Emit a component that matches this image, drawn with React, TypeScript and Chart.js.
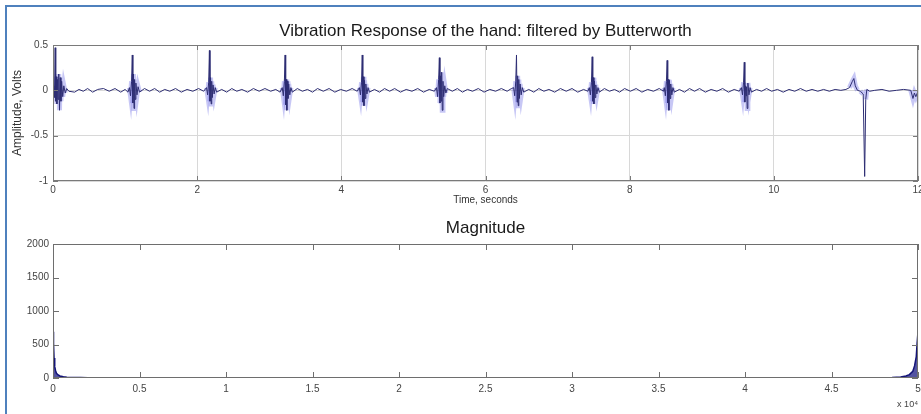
import React, { useEffect, useRef } from "react";
import { Chart, registerables } from "chart.js";

Chart.register(...registerables);

// ---------- data ----------
const titleTop = "Vibration Response of the hand: filtered by Butterworth";
const titleBottom = "Magnitude";
const timeTicks = [0, 2, 4, 6, 8, 10, 12];
const ampTicks = [-1, -0.5, 0, 0.5];
const freqTicks = [0, 0.5, 1, 1.5, 2, 2.5, 3, 3.5, 4, 4.5, 5];
const magTicks = [0, 500, 1000, 1500, 2000];

// time (s), amplitude (V)
const signal: [number, number][] = [
  [0, 0], [0.01, 0.05], [0.02, -0.08], [0.03, 0.47], [0.038, -0.12], [0.046, 0.15], [0.054, -0.15], [0.062, 0.12], [0.07, -0.1], [0.08, 0.18], [0.09, -0.22], [0.1, 0.14], [0.11, -0.12], [0.12, 0.1], [0.135, -0.07], [0.15, 0.05], [0.17, -0.03], [0.19, 0.02], [0.22, -0.01],
  [0.3, -0.02], [0.36, 0.01], [0.42, -0.01], [0.48, 0.02], [0.55, -0.02], [0.62, 0.01], [0.7, 0.02], [0.78, -0.01], [0.86, 0.02], [0.94, -0.02], [1.0, 0.01], [1.04, -0.02],
  [1.06, 0.03], [1.075, -0.06], [1.09, 0.1], [1.1, 0.39], [1.108, -0.14], [1.116, 0.18], [1.124, -0.2], [1.132, 0.12], [1.14, -0.1], [1.15, 0.08], [1.165, -0.05], [1.18, 0.04], [1.2, -0.02],
  [1.27, 0.02], [1.34, -0.01], [1.41, 0.02], [1.48, -0.02], [1.55, 0.01], [1.62, -0.01], [1.7, 0.02], [1.78, -0.02], [1.86, 0.01], [1.94, -0.01], [2.02, 0.02], [2.09, -0.01],
  [2.13, 0.03], [2.145, -0.05], [2.16, 0.09], [2.17, 0.44], [2.178, -0.12], [2.186, 0.14], [2.194, -0.15], [2.202, 0.1], [2.21, -0.08], [2.22, 0.06], [2.235, -0.04], [2.25, 0.03], [2.27, -0.02],
  [2.34, 0.01], [2.41, -0.02], [2.48, 0.02], [2.55, -0.01], [2.62, 0.01], [2.7, -0.02], [2.78, 0.02], [2.86, -0.01], [2.94, 0.02], [3.02, -0.01], [3.09, 0.01], [3.15, -0.02],
  [3.18, 0.03], [3.195, -0.06], [3.21, 0.1], [3.22, 0.39], [3.228, -0.16], [3.236, 0.12], [3.244, -0.22], [3.252, 0.1], [3.26, -0.09], [3.27, 0.07], [3.285, -0.05], [3.3, 0.03], [3.32, -0.02],
  [3.39, 0.02], [3.46, -0.01], [3.53, 0.01], [3.6, -0.02], [3.67, 0.02], [3.75, -0.01], [3.83, 0.02], [3.91, -0.02], [3.99, 0.01], [4.07, -0.01], [4.15, 0.02], [4.22, -0.01],
  [4.25, 0.03], [4.265, -0.05], [4.28, 0.09], [4.29, 0.39], [4.298, -0.13], [4.306, 0.15], [4.314, -0.17], [4.322, 0.11], [4.33, -0.09], [4.34, 0.07], [4.355, -0.04], [4.37, 0.03], [4.39, -0.02],
  [4.46, 0.01], [4.53, -0.02], [4.6, 0.02], [4.67, -0.01], [4.74, 0.02], [4.82, -0.02], [4.9, 0.01], [4.98, -0.01], [5.06, 0.02], [5.14, -0.02], [5.22, 0.01], [5.29, -0.01],
  [5.32, 0.03], [5.335, -0.07], [5.35, 0.12], [5.36, 0.36], [5.368, -0.14], [5.376, 0.16], [5.384, -0.12], [5.392, 0.2], [5.4, -0.22], [5.41, 0.1], [5.42, -0.07], [5.435, 0.05], [5.45, -0.03], [5.47, 0.02],
  [5.54, -0.01], [5.61, 0.02], [5.68, -0.02], [5.75, 0.01], [5.82, -0.01], [5.9, 0.02], [5.98, -0.02], [6.06, 0.01], [6.14, -0.01], [6.22, 0.02], [6.3, -0.01], [6.36, 0.02],
  [6.39, 0.03], [6.405, -0.06], [6.42, 0.1], [6.43, 0.39], [6.438, -0.13], [6.446, 0.16], [6.454, -0.17], [6.462, 0.12], [6.47, -0.09], [6.48, 0.07], [6.495, -0.05], [6.51, 0.03], [6.53, -0.02],
  [6.6, 0.01], [6.67, -0.02], [6.74, 0.02], [6.81, -0.01], [6.88, 0.01], [6.96, -0.02], [7.04, 0.02], [7.12, -0.01], [7.2, 0.02], [7.28, -0.02], [7.36, 0.01], [7.42, -0.01],
  [7.44, 0.03], [7.455, -0.05], [7.47, 0.09], [7.48, 0.37], [7.488, -0.12], [7.496, 0.14], [7.504, -0.15], [7.512, 0.1], [7.52, -0.08], [7.53, 0.06], [7.545, -0.04], [7.56, 0.03], [7.58, -0.02],
  [7.65, 0.02], [7.72, -0.01], [7.79, 0.01], [7.86, -0.02], [7.93, 0.02], [8.01, -0.01], [8.09, 0.02], [8.17, -0.02], [8.25, 0.01], [8.33, -0.01], [8.41, 0.02], [8.47, -0.01],
  [8.48, 0.03], [8.495, -0.06], [8.51, 0.1], [8.52, 0.33], [8.528, -0.14], [8.536, 0.12], [8.544, -0.22], [8.552, 0.11], [8.56, -0.09], [8.57, 0.07], [8.585, -0.05], [8.6, 0.03], [8.62, -0.02],
  [8.69, 0.01], [8.76, -0.02], [8.83, 0.02], [8.9, -0.01], [8.97, 0.02], [9.05, -0.02], [9.13, 0.01], [9.21, -0.01], [9.29, 0.02], [9.37, -0.02], [9.45, 0.01], [9.52, -0.01],
  [9.55, 0.03], [9.565, -0.05], [9.58, 0.09], [9.59, 0.31], [9.598, -0.13], [9.606, 0.05], [9.614, -0.06], [9.622, 0.04], [9.63, -0.2], [9.64, 0.08], [9.655, -0.05], [9.67, 0.03], [9.69, -0.02],
  [9.76, 0.01], [9.83, -0.01], [9.9, 0.02], [9.97, -0.01], [10.05, 0.01], [10.13, -0.02], [10.21, 0.01], [10.29, -0.01], [10.37, 0.02], [10.45, -0.01], [10.53, 0.01], [10.61, -0.01], [10.69, 0.01], [10.77, -0.01], [10.85, 0.01], [10.93, 0], [11.0, 0.01],
  [11.05, 0.03], [11.09, 0.1], [11.11, 0.13], [11.13, 0.05], [11.16, 0], [11.2, -0.01], [11.24, -0.04], [11.26, -0.95], [11.275, -0.1], [11.29, 0.01], [11.33, -0.01],
  [11.4, 0], [11.5, 0.01], [11.6, -0.01], [11.7, 0], [11.8, 0.01], [11.9, 0], [11.93, -0.09], [11.95, -0.03], [11.97, -0.07], [12, -0.01],
];

// frequency (x 10^4), magnitude
const freqX = [0, 0.003, 0.006, 0.01, 0.015, 0.02, 0.03, 0.04, 0.06, 0.08, 0.12, 0.16, 0.2, 0.3, 0.5, 1, 1.5, 2, 2.5, 3, 3.5, 4, 4.5, 4.7, 4.8, 4.85, 4.9, 4.93, 4.95, 4.97, 4.98, 4.99, 4.995, 5];
const magnitude = [690, 520, 300, 170, 110, 70, 45, 30, 20, 12, 8, 6, 4, 2, 1, 1, 1, 1, 1, 1, 1, 1, 2, 3, 5, 8, 15, 30, 50, 100, 180, 320, 520, 690];

// ---------- helpers ----------
const FONT = "'Liberation Sans', Arial, sans-serif";

const boxPlugin = {
  id: "matlabBox",
  afterDraw(chart: any, _args: any, opts: any) {
    const { ctx, chartArea: a, scales } = chart;
    const len = opts.tickLen ?? 5;
    ctx.save();
    ctx.strokeStyle = opts.color ?? "#777";
    ctx.lineWidth = 1;
    ctx.beginPath();
    scales.x.ticks.forEach((t: any) => {
      const px = Math.round(scales.x.getPixelForValue(t.value)) + 0.5;
      ctx.moveTo(px, a.bottom);
      ctx.lineTo(px, a.bottom - len);
      ctx.moveTo(px, a.top);
      ctx.lineTo(px, a.top + len);
    });
    scales.y.ticks.forEach((t: any) => {
      const py = Math.round(scales.y.getPixelForValue(t.value)) + 0.5;
      ctx.moveTo(a.left, py);
      ctx.lineTo(a.left + len, py);
      ctx.moveTo(a.right, py);
      ctx.lineTo(a.right - len, py);
    });
    ctx.stroke();
    ctx.strokeRect(Math.round(a.left) + 0.5, Math.round(a.top) + 0.5, Math.round(a.right - a.left) - 1, Math.round(a.bottom - a.top) - 1);
    ctx.restore();
  },
};

const fixedTicks = (vals: number[]) => (s: any) => {
  s.ticks = vals.map((v) => ({ value: v }));
};

export default function App() {
  const topRef = useRef<HTMLCanvasElement>(null);
  const botRef = useRef<HTMLCanvasElement>(null);

  useEffect(() => {
    const sigData = signal.map(([x, y]) => ({ x, y }));
    const c1 = new Chart(topRef.current!, {
      type: "line",
      data: {
        datasets: [
          { data: sigData, borderColor: "rgb(45,45,115)", borderWidth: 1, pointRadius: 0, tension: 0, order: 0 },
          {
            data: sigData,
            borderWidth: 5,
            pointRadius: 0,
            tension: 0,
            order: 1,
            segment: {
              borderColor: (c: any) => {
                const m = Math.max(Math.abs(c.p0.parsed.y), Math.abs(c.p1.parsed.y));
                return m > 0.035 && m < 0.25 && Math.abs(c.p1.parsed.x - c.p0.parsed.x) < 0.05
                  ? "rgba(80,80,225,0.32)"
                  : "rgba(0,0,0,0)";
              },
            },
          },
        ],
      },
      options: {
        animation: false,
        responsive: true,
        maintainAspectRatio: false,
        layout: { padding: { left: 0, right: 3, top: 0, bottom: 0 } },
        plugins: {
          legend: { display: false },
          tooltip: { enabled: false },
          title: {
            display: true,
            text: titleTop,
            fullSize: false,
            color: "#1a1a1a",
            font: { family: FONT, size: 17, weight: "normal", lineHeight: "20px" },
            padding: { top: 21, bottom: 4 },
          },
          matlabBox: { color: "#7a7a7a", tickLen: 5 },
        } as any,
        scales: {
          x: {
            type: "linear",
            min: 0,
            max: 12,
            afterBuildTicks: fixedTicks(timeTicks),
            afterFit: (s: any) => {
              s.height = 31;
              s.paddingLeft = 0;
              s.paddingRight = 0;
            },
            grid: { color: "#d8d8d8", drawTicks: false },
            border: { display: false },
            ticks: { color: "#444", font: { family: FONT, size: 10 }, padding: 3, maxRotation: 0, autoSkip: false, callback: (v: any) => String(v) },
            title: { display: true, text: "Time, seconds", color: "#333", font: { family: FONT, size: 10 }, padding: { top: 0, bottom: 6 } },
          },
          y: {
            type: "linear",
            min: -1,
            max: 0.5,
            afterBuildTicks: fixedTicks(ampTicks),
            afterFit: (s: any) => {
              s.width = 53;
            },
            grid: { color: "#d8d8d8", drawTicks: false },
            border: { display: false },
            ticks: { color: "#444", font: { family: FONT, size: 10 }, padding: 5, callback: (v: any) => String(v) },
            title: { display: true, text: "Amplitude, Volts", color: "#333", font: { family: FONT, size: 12 }, padding: { top: 10, bottom: 0 } },
          },
        },
      },
      plugins: [boxPlugin],
    } as any);

    const magData = freqX.map((x, i) => ({ x, y: magnitude[i] }));
    const c2 = new Chart(botRef.current!, {
      type: "line",
      data: {
        datasets: [
          { data: magData, borderColor: "rgb(20,20,120)", backgroundColor: "rgba(25,25,130,0.75)", fill: "origin", borderWidth: 1.5, pointRadius: 0, tension: 0 },
        ],
      },
      options: {
        animation: false,
        responsive: true,
        maintainAspectRatio: false,
        layout: { padding: { left: 0, right: 3, top: 0, bottom: 0 } },
        plugins: {
          legend: { display: false },
          tooltip: { enabled: false },
          title: {
            display: true,
            text: titleBottom,
            fullSize: false,
            color: "#1a1a1a",
            font: { family: FONT, size: 17, weight: "normal", lineHeight: "20px" },
            padding: { top: 6, bottom: 6 },
          },
          matlabBox: { color: "#6e6e6e", tickLen: 6 },
        } as any,
        scales: {
          x: {
            type: "linear",
            min: 0,
            max: 5,
            afterBuildTicks: fixedTicks(freqTicks),
            afterFit: (s: any) => {
              s.height = 36;
              s.paddingLeft = 0;
              s.paddingRight = 0;
            },
            grid: { display: false, drawTicks: false },
            border: { display: false },
            ticks: { color: "#444", font: { family: FONT, size: 10 }, padding: 5, maxRotation: 0, autoSkip: false, callback: (v: any) => String(v) },
            title: { display: true, text: "x 10⁴", align: "end", color: "#444", font: { family: FONT, size: 9 }, padding: { top: 0, bottom: 4 } },
          },
          y: {
            type: "linear",
            min: 0,
            max: 2000,
            afterBuildTicks: fixedTicks(magTicks),
            afterFit: (s: any) => {
              s.width = 53;
            },
            grid: { display: false, drawTicks: false },
            border: { display: false },
            ticks: { color: "#444", font: { family: FONT, size: 10 }, padding: 4, callback: (v: any) => String(v) },
          },
        },
      },
      plugins: [boxPlugin],
    } as any);

    return () => {
      c1.destroy();
      c2.destroy();
    };
  }, []);

  return (
    <div style={{ position: "fixed", left: 0, top: 0, width: 921, height: 414, background: "#fff", overflow: "hidden" }}>
      <div style={{ position: "absolute", left: 0, top: 0, width: 921, height: 212 }}>
        <canvas ref={topRef} />
      </div>
      <div style={{ position: "absolute", left: 0, top: 212, width: 921, height: 202 }}>
        <canvas ref={botRef} />
      </div>
      <div
        style={{
          position: "absolute",
          left: 5,
          top: 5,
          right: 0,
          bottom: 0,
          borderLeft: "2px solid #4f81bd",
          borderTop: "2px solid #4f81bd",
          pointerEvents: "none",
        }}
      />
    </div>
  );
}
